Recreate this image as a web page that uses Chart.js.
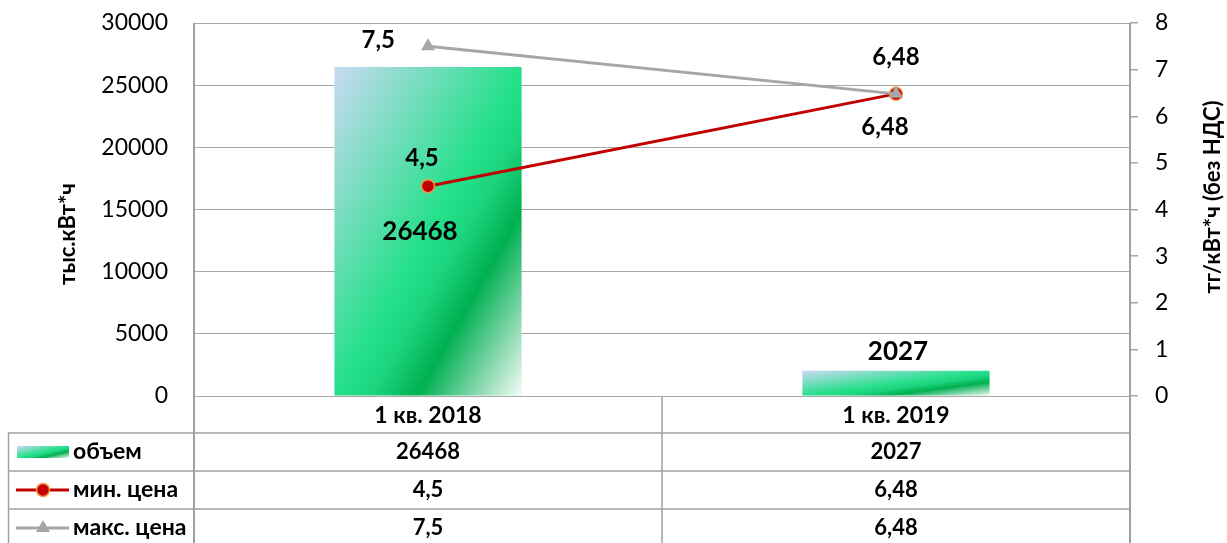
<!DOCTYPE html>
<html>
<head>
<meta charset="utf-8">
<script src="https://cdn.jsdelivr.net/npm/chart.js@4.4.1/dist/chart.umd.min.js"></script>
<style>
  html, body { margin: 0; padding: 0; background: #ffffff; }
  #wrap { position: relative; width: 1227px; height: 543px; overflow: hidden; }
  canvas { display: block; }
</style>
</head>
<body>
<div id="wrap"><canvas id="c" width="1227" height="543"></canvas></div>
<script>
// ---- data ----
const categories = ['1 кв. 2018', '1 кв. 2019'];
const volume = [26468, 2027];
const minPrice = [4.5, 6.48];
const maxPrice = [7.5, 6.48];
const seriesNames = ['объем', 'мин. цена', 'макс. цена'];
const volumeAxisRange = [0, 30000, 5000];
const priceAxisRange = [0, 8, 1];
const leftAxisTitle = 'тыс.кВт*ч';
const rightAxisTitle = 'тг/кВт*ч (без НДС)';

const FONT = 'Lato';
const GRID = '#a6a6a6';
const LINE = '#a0a0a0';
const fmt = v => String(v).replace('.', ',');

function barGradient(ctx, x0, y0, w, h) {
  const s = 2 * w * h / (w * w + h * h);
  const g = ctx.createLinearGradient(x0, y0, x0 + h * s, y0 + w * s);
  g.addColorStop(0, '#c9daf3');
  g.addColorStop(0.5, '#26e08b');
  g.addColorStop(0.6, '#1cd47e');
  g.addColorStop(0.72, '#00b050');
  g.addColorStop(0.77, '#2bbd70');
  g.addColorStop(0.9, '#9fdfbd');
  g.addColorStop(1, '#f4fcf8');
  return g;
}

const BAR_PCT = 0.4;

const tablePlugin = {
  id: 'tablePlugin',
  afterDraw(chart) {
    const { ctx, chartArea: ca, scales } = chart;
    const xs = scales.x;
    const L = 8, B = 543;
    const rowTops = [433, 471, 509];
    const rowH = 38;
    const boundary = (xs.getPixelForValue(0) + xs.getPixelForValue(1)) / 2;
    ctx.save();
    ctx.strokeStyle = LINE;
    ctx.lineWidth = 1.5;
    ctx.beginPath();
    rowTops.forEach(y => { ctx.moveTo(L, y); ctx.lineTo(ca.right, y); });
    ctx.moveTo(L + 0.5, rowTops[0]); ctx.lineTo(L + 0.5, B);
    ctx.moveTo(boundary, ca.bottom); ctx.lineTo(boundary, B);
    ctx.stroke();
    ctx.lineWidth = 2;
    ctx.strokeStyle = '#a0a0a0';
    ctx.beginPath();
    ctx.moveTo(ca.left, ca.top); ctx.lineTo(ca.left, B);
    ctx.moveTo(ca.right, ca.top); ctx.lineTo(ca.right, B);
    ctx.stroke();

    const rows = [
      { name: seriesNames[0], values: volume.map(v => String(v)), kind: 'bar' },
      { name: seriesNames[1], values: minPrice.map(fmt), kind: 'min' },
      { name: seriesNames[2], values: maxPrice.map(fmt), kind: 'max' }
    ];
    ctx.textBaseline = 'middle';
    rows.forEach((r, i) => {
      const cy = rowTops[i] + rowH / 2;
      if (r.kind === 'bar') {
        ctx.fillStyle = barGradient(ctx, 17, cy - 6, 52, 12);
        ctx.fillRect(17, cy - 6, 52, 12);
      } else if (r.kind === 'min') {
        ctx.strokeStyle = '#c00000'; ctx.lineWidth = 3;
        ctx.beginPath(); ctx.moveTo(16, cy); ctx.lineTo(69, cy); ctx.stroke();
        ctx.fillStyle = '#c00000'; ctx.strokeStyle = '#f79646'; ctx.lineWidth = 1.5;
        ctx.beginPath(); ctx.arc(43, cy, 6.5, 0, Math.PI * 2); ctx.fill(); ctx.stroke();
      } else {
        ctx.strokeStyle = '#a6a6a6'; ctx.lineWidth = 3;
        ctx.beginPath(); ctx.moveTo(16, cy); ctx.lineTo(69, cy); ctx.stroke();
        ctx.fillStyle = '#a6a6a6';
        ctx.beginPath(); ctx.moveTo(43, cy - 8); ctx.lineTo(50, cy + 4); ctx.lineTo(36, cy + 4); ctx.closePath(); ctx.fill();
      }
      ctx.fillStyle = '#000';
      ctx.font = 'bold 23px ' + FONT;
      ctx.textAlign = 'left';
      ctx.fillText(r.name, 73, cy);
      ctx.font = 'bold 22px ' + FONT;
      ctx.textAlign = 'center';
      r.values.forEach((v, j) => ctx.fillText(v, xs.getPixelForValue(j), cy));
    });

    ctx.font = 'bold 22px ' + FONT;
    ctx.textAlign = 'center';
    ctx.save(); ctx.translate(68, 234); ctx.rotate(-Math.PI / 2); ctx.fillText(leftAxisTitle, 0, 0); ctx.restore();
    ctx.save(); ctx.translate(1213, 197); ctx.rotate(-Math.PI / 2); ctx.fillText(rightAxisTitle, 0, 0); ctx.restore();

    const mBar = chart.getDatasetMeta(0).data;
    const mMin = chart.getDatasetMeta(1).data;
    const mMax = chart.getDatasetMeta(2).data;
    ctx.font = 'bold 26px ' + FONT;
    ctx.textAlign = 'center';
    ctx.fillText(String(volume[0]), mBar[0].x - 8, (mBar[0].y + mBar[0].base) / 2);
    ctx.fillText(String(volume[1]), mBar[1].x + 2, mBar[1].y - 19);
    ctx.font = 'bold 24px ' + FONT;
    ctx.fillText(fmt(minPrice[0]), mMin[0].x - 6, mMin[0].y - 28);
    ctx.fillText(fmt(minPrice[1]), mMin[1].x, mMin[1].y - 37);
    ctx.textAlign = 'right';
    ctx.fillText(fmt(maxPrice[0]), mMax[0].x - 33, mMax[0].y - 6);
    ctx.textAlign = 'center';
    ctx.fillText(fmt(maxPrice[1]), mMax[1].x - 11, mMax[1].y + 33);
    ctx.restore();
  }
};

Chart.defaults.font.family = FONT;
Chart.defaults.color = '#000';

new Chart(document.getElementById('c'), {
  data: {
    labels: categories,
    datasets: [
      {
        type: 'bar', label: seriesNames[0], data: volume, yAxisID: 'y', order: 3,
        barPercentage: BAR_PCT, categoryPercentage: 1,
        backgroundColor: (c) => {
          const ch = c.chart;
          if (c.type !== 'data' || !ch.chartArea) return '#26e08b';
          const xs = ch.scales.x, ys = ch.scales.y;
          const cx = xs.getPixelForValue(c.dataIndex);
          const w = xs.width / categories.length * BAR_PCT;
          const y0 = ys.getPixelForValue(c.raw), yb = ys.getPixelForValue(0);
          return barGradient(ch.ctx, cx - w / 2, y0, w, yb - y0);
        },
        borderWidth: 0
      },
      {
        type: 'line', label: seriesNames[1], data: minPrice, yAxisID: 'y1', order: 2,
        borderColor: '#c00000', borderWidth: 3, pointStyle: 'circle', pointRadius: 6.5,
        pointBackgroundColor: '#c00000', pointBorderColor: '#f79646', pointBorderWidth: 1.5,
        tension: 0
      },
      {
        type: 'line', label: seriesNames[2], data: maxPrice, yAxisID: 'y1', order: 1,
        borderColor: '#a6a6a6', borderWidth: 3, pointStyle: 'triangle', pointRadius: 8,
        pointBackgroundColor: '#a6a6a6', pointBorderColor: '#a6a6a6', pointBorderWidth: 0,
        tension: 0
      }
    ]
  },
  options: {
    responsive: false,
    animation: false,
    layout: { padding: { top: 23, left: 0, right: 0, bottom: 0 } },
    plugins: { legend: { display: false }, tooltip: { enabled: false }, title: { display: false } },
    scales: {
      x: {
        type: 'category', position: 'bottom', offset: true,
        grid: { display: false, drawTicks: false },
        border: { display: false },
        ticks: { font: { size: 23, weight: 'bold', family: FONT }, color: '#000', padding: 6, maxRotation: 0, autoSkip: false },
        afterFit: s => { s.height = 147; s.paddingLeft = 0; s.paddingRight = 0; }
      },
      y: {
        position: 'left', min: volumeAxisRange[0], max: volumeAxisRange[1],
        ticks: { stepSize: volumeAxisRange[2], font: { size: 23, family: FONT }, color: '#000', padding: 26, callback: v => String(v) },
        grid: { color: GRID, lineWidth: 1, drawTicks: false },
        border: { display: false },
        afterFit: s => { s.width = 194; s.paddingTop = 0; s.paddingBottom = 0; }
      },
      y1: {
        position: 'right', min: priceAxisRange[0], max: priceAxisRange[1],
        ticks: { stepSize: priceAxisRange[2], font: { size: 23, family: FONT }, color: '#000', padding: 17, callback: v => String(v) },
        grid: { drawOnChartArea: false, color: GRID, lineWidth: 1.5, tickLength: 8 },
        border: { display: false },
        afterFit: s => { s.width = 97; s.paddingTop = 0; s.paddingBottom = 0; }
      }
    }
  },
  plugins: [tablePlugin]
});
</script>
</body>
</html>
